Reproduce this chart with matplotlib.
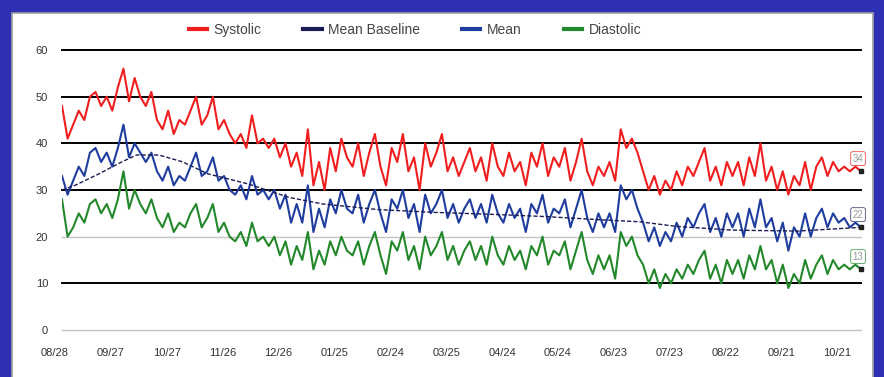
import numpy as np
import matplotlib.pyplot as plt
import matplotlib.transforms as mtransforms
from matplotlib.patches import Rectangle

plt.rcParams['font.family'] = ['Liberation Sans', 'DejaVu Sans']

# days since 08/28, one reading every 3 days
days = np.arange(0, 430, 3)

systolic = [
    48, 41, 44, 47, 45, 50, 51, 48, 50, 47,
    52, 56, 49, 54, 50, 48, 51, 45, 43, 47,
    42, 45, 44, 47, 50, 44, 46, 50, 43, 45,
    42, 40, 42, 39, 46, 40, 41, 39, 41, 37,
    40, 35, 38, 33, 43, 31, 36, 30, 39, 34,
    41, 37, 35, 40, 33, 38, 42, 35, 31, 39,
    36, 42, 34, 37, 30, 40, 35, 38, 42, 34,
    37, 33, 36, 39, 34, 37, 32, 40, 35, 33,
    38, 34, 36, 31, 38, 35, 40, 33, 37, 35,
    39, 32, 36, 41, 34, 31, 35, 33, 36, 32,
    43, 39, 41, 38, 34, 30, 33, 29, 32, 30,
    34, 31, 35, 33, 36, 39, 32, 35, 31, 36,
    33, 36, 31, 37, 33, 40, 32, 35, 30, 34,
    29, 33, 31, 36, 30, 35, 37, 33, 36, 34,
    35, 34, 35, 34,
]

mean = [
    33, 29, 32, 35, 33, 38, 39, 36, 38, 35,
    39, 44, 37, 40, 38, 36, 38, 34, 32, 35,
    31, 33, 32, 35, 38, 33, 34, 37, 32, 33,
    30, 29, 31, 28, 33, 29, 30, 28, 30, 26,
    29, 23, 27, 23, 31, 21, 26, 22, 28, 25,
    30, 26, 25, 29, 23, 27, 30, 25, 21, 28,
    26, 30, 24, 27, 21, 29, 25, 27, 30, 24,
    27, 23, 26, 28, 24, 27, 23, 29, 25, 23,
    27, 24, 26, 21, 27, 25, 29, 23, 26, 25,
    28, 22, 26, 30, 24, 21, 25, 22, 25, 21,
    31, 28, 30, 26, 23, 19, 22, 18, 21, 19,
    23, 20, 24, 22, 25, 27, 21, 24, 20, 25,
    22, 25, 20, 26, 22, 28, 22, 24, 19, 23,
    17, 22, 20, 25, 20, 24, 26, 22, 25, 23,
    24, 22, 23, 22,
]

diastolic = [
    28, 20, 22, 25, 23, 27, 28, 25, 27, 24,
    28, 34, 26, 30, 27, 25, 28, 24, 22, 25,
    21, 23, 22, 25, 27, 22, 24, 27, 21, 23,
    20, 19, 21, 18, 23, 19, 20, 18, 20, 16,
    19, 14, 18, 15, 21, 13, 17, 14, 19, 16,
    20, 17, 16, 19, 14, 18, 21, 16, 12, 19,
    17, 21, 15, 18, 13, 20, 16, 18, 21, 15,
    18, 14, 17, 19, 15, 18, 14, 20, 16, 14,
    18, 15, 17, 13, 18, 16, 20, 14, 17, 16,
    19, 13, 17, 21, 15, 12, 16, 13, 16, 11,
    21, 18, 20, 16, 14, 10, 13, 9, 12, 10,
    13, 11, 14, 12, 15, 17, 11, 14, 10, 15,
    12, 15, 11, 16, 13, 18, 13, 15, 10, 14,
    9, 12, 10, 15, 11, 14, 16, 12, 15, 13,
    14, 13, 14, 13,
]

baseline_days = [0, 7, 20, 32, 40, 52, 65, 78, 100, 122, 140, 170, 200,
                 230, 260, 290, 310, 330, 360, 395, 429]
baseline = [30, 31, 33.5, 36, 37.5, 37.5, 36, 33.5, 31.3, 28.4, 27, 25.8, 25.2,
            24.8, 24.3, 23.6, 23.2, 22.2, 21.4, 21.2, 22]

tick_days = list(range(0, 421, 30))
tick_labels = ['08/28', '09/27', '10/27', '11/26', '12/26', '01/25', '02/24',
               '03/25', '04/24', '05/24', '06/23', '07/23', '08/22', '09/21', '10/21']
y_ticks = [0, 10, 20, 30, 40, 50, 60]

RED = '#f01e1e'
BLUE = '#1f3d9e'
GREEN = '#23882b'
NAVY = '#1b1b55'

fig = plt.figure(figsize=(8.84, 3.77), dpi=100)
fig.patch.set_facecolor('#2f2fb4')
panel = Rectangle((12 / 884, -0.01), 861 / 884, 1 - 13 / 377 + 0.01,
                  transform=fig.transFigure, facecolor='white',
                  edgecolor='#a0a0a0', lw=1.2, zorder=-10)
fig.patches.append(panel)

ax = fig.add_axes([62 / 884, 47 / 377, 799 / 884, 280 / 377])
ax.set_facecolor('none')
ax.set_zorder(5)
ax.set_xlim(0, 429)
ax.set_ylim(0, 60)
for s in ax.spines.values():
    s.set_visible(False)

for v in y_ticks:
    if v in (0, 20):
        ax.axhline(v, color='#c4c4c4', lw=1.0, zorder=1, clip_on=False)
    else:
        ax.axhline(v, color='black', lw=1.4, zorder=1, clip_on=False)

ax.plot(days, systolic, color=RED, lw=1.5, label='Systolic', zorder=3)
ax.plot(baseline_days, baseline, color=NAVY, lw=1.0, ls=(0, (3, 1.5)),
        label='Mean Baseline', zorder=5)
ax.plot(days, mean, color=BLUE, lw=1.5, label='Mean', zorder=3)
ax.plot(days, diastolic, color=GREEN, lw=1.5, label='Diastolic', zorder=3)

# end markers and value tags
for series, col in [(systolic, RED), (mean, NAVY), (diastolic, GREEN)]:
    ax.plot(days[-1], series[-1], 's', ms=3.5, color='#222222', zorder=6, clip_on=False)
    ax.annotate(str(series[-1]), (days[-1], series[-1]), xytext=(-6, 7),
                textcoords='offset points', fontsize=7, color='#999999',
                annotation_clip=False,
                bbox=dict(boxstyle='round,pad=0.2', fc='white', ec=col, lw=0.6, alpha=0.8))

ax.set_xticks(tick_days)
ax.set_xticklabels(tick_labels, fontsize=8, color='#333333')
ax.set_yticks(y_ticks)
ax.set_yticklabels([str(v) for v in y_ticks], fontsize=8, color='#333333')
ax.tick_params(axis='both', length=0)
ax.tick_params(axis='x', pad=13)
ax.tick_params(axis='y', pad=10)
shift = mtransforms.ScaledTranslation(-5 / 72, 0, fig.dpi_scale_trans)
for lab in ax.get_xticklabels():
    lab.set_transform(lab.get_transform() + shift)

handles, labels = ax.get_legend_handles_labels()
leg = fig.legend(handles, labels, loc='center', bbox_to_anchor=(415 / 884, 1 - 30 / 377),
                 ncol=4, frameon=False, fontsize=10, handlelength=1.3,
                 columnspacing=3.0, handletextpad=0.5)
for h in leg.get_lines():
    h.set_linewidth(3)
    h.set_linestyle('-')
for t in leg.get_texts():
    t.set_color('#444444')

fig.savefig('out.png', dpi=100, facecolor=fig.get_facecolor())
